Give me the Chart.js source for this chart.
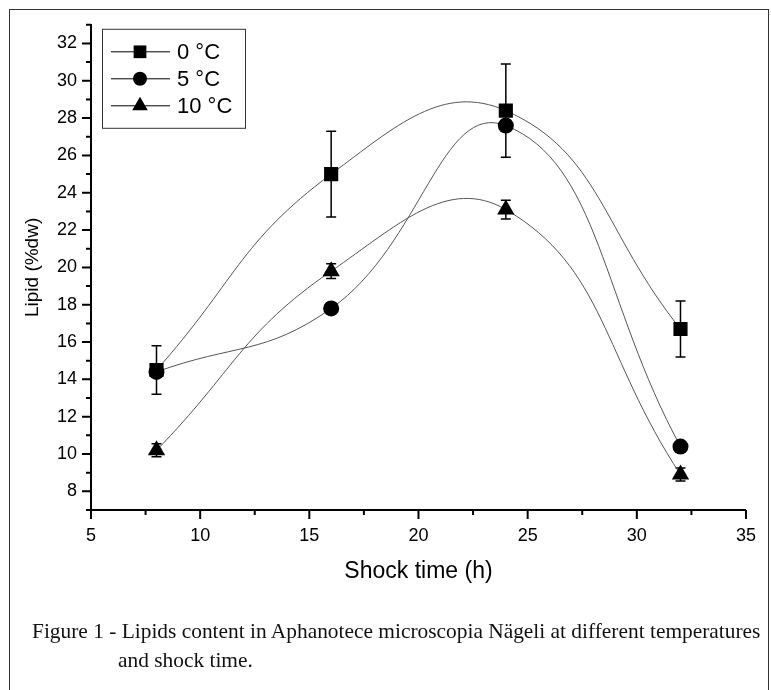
<!DOCTYPE html>
<html>
<head>
<meta charset="utf-8">
<style>
  html, body { margin: 0; padding: 0; background: #fff; }
  #wrap { position: relative; width: 771px; height: 690px; overflow: hidden; }
  #frame { position: absolute; left: 9px; top: 9px; width: 760px; height: 720px; border: 1px solid #333; box-sizing: border-box; }
  #chart { position: absolute; left: 0; top: 0; }
  .cap { position: absolute; font-family: 'Liberation Serif', 'Times New Roman', serif; font-size: 21.4px; color: #111; white-space: nowrap; }
</style>
<script src="https://cdn.jsdelivr.net/npm/chart.js"></script>
</head>
<body>
<div id="wrap">
  <div id="frame"></div>
  <canvas id="chart" width="771" height="690" style="width:771px;height:690px"></canvas>
  <div class="cap" style="left:32px; top:619px;">Figure 1 - Lipids content in Aphanotece microscopia Nägeli at different temperatures</div>
  <div class="cap" style="left:118px; top:648px;">and shock time.</div>
</div>
<script>
    // shock time (h) and lipid content (%dw) per temperature
    const times = [8, 16, 24, 32];
    const lipid0 = [14.5, 25.0, 28.4, 16.7];
    const err0 = [1.3, 2.3, 2.5, 1.5];
    const lipid5 = [14.4, 17.8, 27.6, 10.4];
    const err5 = [0.2, 0.3, 0.3, 0.2];
    const lipid10 = [10.2, 19.8, 23.1, 8.9];
    const err10 = [0.35, 0.4, 0.5, 0.35];
    const seriesLabels = ['0 °C', '5 °C', '10 °C'];

    const xTicks = [5, 10, 15, 20, 25, 30, 35];
    const xMinor = [7.5, 12.5, 17.5, 22.5, 27.5, 32.5];
    const yTicks = [8, 10, 12, 14, 16, 18, 20, 22, 24, 26, 28, 30, 32];
    const yMinor = [7, 9, 11, 13, 15, 17, 19, 21, 23, 25, 27, 29, 31, 33];

    const sans = "'Liberation Sans', Arial, sans-serif";

    function makeSet(label, values, errors, style, radius) {
        return {
            label: label,
            data: times.map((t, i) => ({ x: t, y: values[i] })),
            errors: errors,
            borderColor: '#555',
            borderWidth: 1,
            tension: 0.45,
            fill: false,
            pointStyle: style,
            pointRadius: radius,
            pointBackgroundColor: '#000',
            pointBorderColor: '#000',
            pointBorderWidth: 0
        };
    }

    function drawMarker(ctx, style, x, y, r) {
        ctx.beginPath();
        if (style === 'rect') {
            const s = r * Math.SQRT1_2;
            ctx.rect(x - s, y - s, 2 * s, 2 * s);
        } else if (style === 'circle') {
            ctx.arc(x, y, r, 0, Math.PI * 2);
        } else {
            for (let k = 0; k < 3; k++) {
                const a = k * 2 * Math.PI / 3;
                ctx.lineTo(x + Math.sin(a) * r, y - Math.cos(a) * r);
            }
            ctx.closePath();
        }
        ctx.fill();
    }

    // error bars go under the markers
    const errorBars = {
        id: 'errorBars',
        beforeDatasetsDraw(chart) {
            const { ctx, scales: { x, y } } = chart;
            ctx.save();
            ctx.strokeStyle = '#000';
            ctx.lineWidth = 1.5;
            chart.data.datasets.forEach(ds => {
                ds.data.forEach((p, i) => {
                    const e = ds.errors[i];
                    const px = x.getPixelForValue(p.x);
                    const top = y.getPixelForValue(p.y + e);
                    const bot = y.getPixelForValue(p.y - e);
                    ctx.beginPath();
                    ctx.moveTo(px, top); ctx.lineTo(px, bot);
                    ctx.moveTo(px - 5, top); ctx.lineTo(px + 5, top);
                    ctx.moveTo(px - 5, bot); ctx.lineTo(px + 5, bot);
                    ctx.stroke();
                });
            });
            ctx.restore();
        }
    };

    const tickMarks = {
        id: 'tickMarks',
        afterDraw(chart) {
            const { ctx, chartArea, scales: { x, y } } = chart;
            ctx.save();
            ctx.strokeStyle = '#000';
            ctx.lineWidth = 2;
            ctx.beginPath();
            xTicks.forEach(v => { const px = x.getPixelForValue(v); ctx.moveTo(px, chartArea.bottom); ctx.lineTo(px, chartArea.bottom + 9); });
            xMinor.forEach(v => { const px = x.getPixelForValue(v); ctx.moveTo(px, chartArea.bottom); ctx.lineTo(px, chartArea.bottom + 5); });
            yTicks.forEach(v => { const py = y.getPixelForValue(v); ctx.moveTo(chartArea.left, py); ctx.lineTo(chartArea.left - 9, py); });
            yMinor.forEach(v => { const py = y.getPixelForValue(v); ctx.moveTo(chartArea.left, py); ctx.lineTo(chartArea.left - 5, py); });
            ctx.stroke();
            ctx.restore();
        }
    };

    const boxLegend = {
        id: 'boxLegend',
        afterDraw(chart) {
            const ctx = chart.ctx;
            const left = chart.chartArea.left + 11, top = chart.chartArea.top + 4;
            ctx.save();
            ctx.strokeStyle = '#333';
            ctx.lineWidth = 1;
            ctx.strokeRect(left + 0.5, top + 0.5, 143, 99);
            ctx.font = '22px ' + sans;
            ctx.textBaseline = 'middle';
            ctx.fillStyle = '#000';
            chart.data.datasets.forEach((ds, i) => {
                const ry = top + 23 + i * 27;
                ctx.strokeStyle = '#000';
                ctx.beginPath();
                ctx.moveTo(left + 9, ry); ctx.lineTo(left + 68, ry);
                ctx.stroke();
                drawMarker(ctx, ds.pointStyle, left + 38, ry, ds.pointRadius - 1);
                ctx.fillText(ds.label, left + 75, ry + 1);
            });
            ctx.restore();
        }
    };

    const ctx = document.getElementById('chart').getContext('2d');

    new Chart(ctx, {
        type: 'line',
        data: {
            datasets: [
                makeSet(seriesLabels[0], lipid0, err0, 'rect', 10),
                makeSet(seriesLabels[1], lipid5, err5, 'circle', 8),
                makeSet(seriesLabels[2], lipid10, err10, 'triangle', 10)
            ]
        },
        options: {
            responsive: false,
            animation: false,
            layout: { padding: { left: 0, top: 20, right: 21, bottom: 100 } },
            plugins: {
                legend: { display: false },
                tooltip: { enabled: false }
            },
            scales: {
                x: {
                    type: 'linear',
                    min: 5,
                    max: 35,
                    afterBuildTicks: s => { s.ticks = xTicks.map(v => ({ value: v })); },
                    afterFit: s => { s.height = 80; },
                    grid: { display: false, drawTicks: false },
                    border: { display: true, color: '#000', width: 2 },
                    ticks: { padding: 15, color: '#000', autoSkip: false, maxRotation: 0, font: { family: sans, size: 18 } },
                    title: { display: true, text: 'Shock time (h)', color: '#000', font: { family: sans, size: 23 }, padding: { top: 0, bottom: 5 } }
                },
                y: {
                    type: 'linear',
                    min: 7,
                    max: 33,
                    afterBuildTicks: s => { s.ticks = yTicks.map(v => ({ value: v })); },
                    afterFit: s => { s.width = 91; },
                    grid: { display: false, drawTicks: false },
                    border: { display: true, color: '#000', width: 2 },
                    ticks: { padding: 14, color: '#000', autoSkip: false, font: { family: sans, size: 18 } },
                    title: { display: true, text: 'Lipid (%dw)', color: '#000', font: { family: sans, size: 19 }, padding: { top: 21, bottom: 0 } }
                }
            }
        },
        plugins: [errorBars, tickMarks, boxLegend]
    });
</script>
</body>
</html>
